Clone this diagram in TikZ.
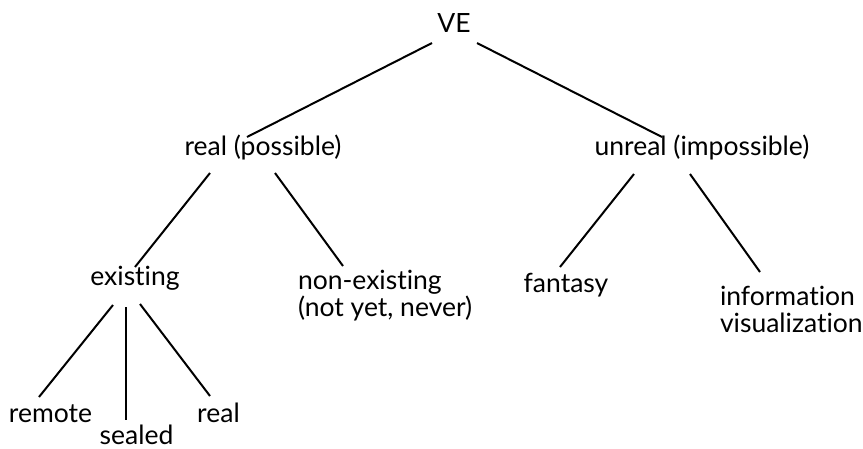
\documentclass[tikz,border=0pt]{standalone}
\usepackage{fontspec}
\setmainfont{Lato}[Ligatures={NoCommon}]
\begin{document}
\begin{tikzpicture}[x=1pt,y=-1pt,
  lbl/.style={inner sep=0pt,outer sep=0pt,font=\fontsize{26.5}{26.5}\selectfont},
  edge/.style={line width=2pt,line cap=butt}]
\useasboundingbox (0,0) rectangle (863,448);

% labels, placed by the baseline of their last line
\node[lbl,anchor=base] (ve) at (454,32) {VE};
\node[lbl,anchor=base] (rp) at (263,155) {real (possible)};
\node[lbl,anchor=base] (ur) at (702,155) {unreal (impossible)};
\node[lbl,anchor=base] (ex) at (135,285) {existing};
\node[lbl,anchor=base west,align=left] (ne) at (298,316) {non-existing\\(not yet, never)};
\node[lbl,anchor=base] (fa) at (566,292) {fantasy};
\node[lbl,anchor=base west,align=left] (iv) at (720,332) {information\\visualization};
\node[lbl,anchor=base] (rm) at (50.5,422) {remote};
\node[lbl,anchor=base] (se) at (136.5,444) {sealed};
\node[lbl,anchor=base] (rl) at (218.5,422) {real};

% tree edges
\draw[edge] ([shift={(-22,11)}]ve.base) -- ([shift={(-16,-18)}]rp.base);
\draw[edge] ([shift={(23,11)}]ve.base) -- ([shift={(-40,-18)}]ur.base);
\draw[edge] ([shift={(-53,18)}]rp.base) -- ([shift={(0,-18)}]ex.base);
\draw[edge] ([shift={(12,18)}]rp.base) -- ([shift={(45,-50)}]ne.base west);
\draw[edge] ([shift={(-68,19)}]ur.base) -- ([shift={(-6,-25)}]fa.base);
\draw[edge] ([shift={(-12,19)}]ur.base) -- ([shift={(40,-60)}]iv.base west);
\draw[edge] ([shift={(-22,20)}]ex.base) -- ([shift={(-11.5,-25)}]rm.base);
\draw[edge] ([shift={(-9,22)}]ex.base) -- ([shift={(-10.5,-24)}]se.base);
\draw[edge] ([shift={(5,19)}]ex.base) -- ([shift={(-8.5,-26)}]rl.base);
\end{tikzpicture}
\end{document}
